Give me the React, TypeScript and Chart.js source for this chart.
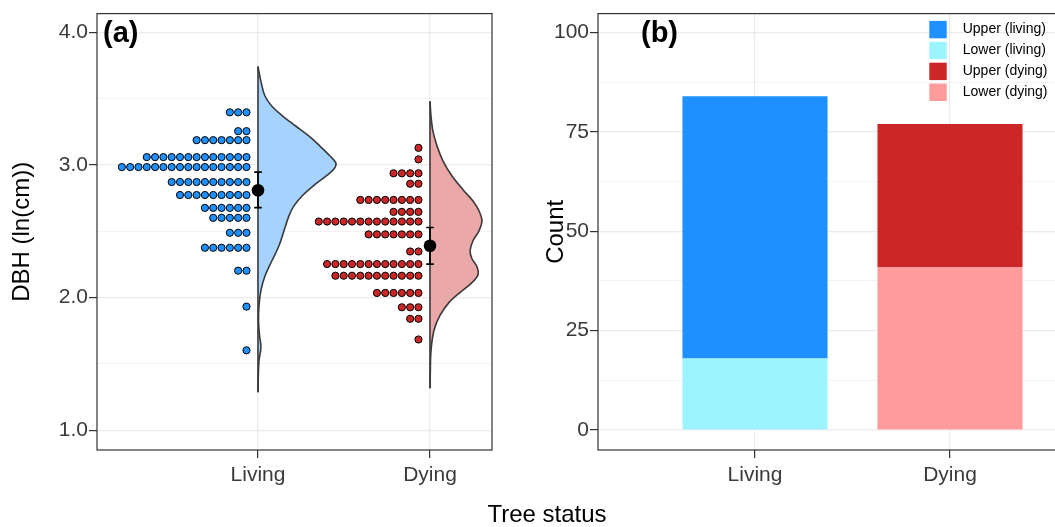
import React, { useEffect, useRef } from 'react';
import { Chart, registerables } from 'chart.js';

Chart.register(...registerables);

const FONT = '"Liberation Sans", Arial, Helvetica, sans-serif';

// ---------- shared ----------
const categories = ['Living', 'Dying'];
const categoryPositions = [1, 2];

// ---------- panel (a): dot rows (bin value, number of trees) ----------
const livingRowValues = [3.398, 3.256, 3.188, 3.06, 2.985, 2.872, 2.774, 2.677, 2.602, 2.489, 2.376, 2.203, 1.932, 1.602];
const livingRowCounts = [3, 2, 7, 13, 16, 10, 9, 6, 5, 3, 6, 2, 1, 1];
const dyingRowValues = [3.13, 3.043, 2.938, 2.859, 2.737, 2.647, 2.574, 2.477, 2.348, 2.253, 2.165, 2.035, 1.927, 1.84, 1.684];
const dyingRowCounts = [1, 1, 4, 2, 8, 4, 13, 7, 2, 12, 11, 6, 3, 2, 1];

// means and error bars
const means = [2.81, 2.391];
const errLow = [2.679, 2.253];
const errHigh = [2.947, 2.529];

// half-violin density outlines (value, half width in category units)
const livingDensityValues = [3.744, 3.632, 3.519, 3.444, 3.368, 3.293, 3.218, 3.143, 3.068, 3.015, 2.97, 2.917, 2.842, 2.767, 2.692, 2.617, 2.504, 2.391, 2.278, 2.165, 2.053, 1.94, 1.827, 1.714, 1.624, 1.526, 1.414, 1.286];
const livingDensityWidths = [0, 0.017, 0.041, 0.081, 0.145, 0.221, 0.297, 0.36, 0.419, 0.453, 0.442, 0.395, 0.32, 0.256, 0.209, 0.18, 0.151, 0.122, 0.081, 0.041, 0.017, 0.006, 0.003, 0.009, 0.017, 0.006, 0.002, 0];
const dyingDensityValues = [3.481, 3.368, 3.256, 3.143, 3.03, 2.917, 2.805, 2.729, 2.654, 2.579, 2.504, 2.429, 2.353, 2.293, 2.233, 2.173, 2.113, 2.038, 1.962, 1.865, 1.752, 1.602, 1.451, 1.316];
const dyingDensityWidths = [0, 0.006, 0.017, 0.041, 0.076, 0.128, 0.198, 0.25, 0.285, 0.302, 0.285, 0.25, 0.233, 0.244, 0.273, 0.279, 0.244, 0.174, 0.11, 0.058, 0.023, 0.006, 0.002, 0];

const yMajorTicksA = [1, 2, 3, 4];
const yMinorTicksA = [1.5, 2.5, 3.5];

// ---------- panel (b): stacked counts ----------
const lowerCounts = [18, 41];
const upperCounts = [66, 36];
const yMajorTicksB = [0, 25, 50, 75, 100];
const yMinorTicksB = [12.5, 37.5, 62.5, 87.5];
const legendOrder = ['Upper (living)', 'Lower (living)', 'Upper (dying)', 'Lower (dying)'];

// ---------- styles ----------
const LIVING_DOT = '#1E90FF';
const DYING_DOT = '#CD2626';
const LIVING_VIOLIN = '#A5D2FF';
const DYING_VIOLIN = '#EBA8A8';
const GRID = '#EBEBEB';
const DARK = '#333333';
const TICK_TEXT = '#3a3a3a';

const DOT_OFFSET = 0.067; // gap between category line and nearest dot (category units)
const DOT_STEP = 0.0483; // one dot diameter (category units)
const CAP = 0.022;

function dotPoints(values: number[], counts: number[], center: number) {
  const pts: { x: number; y: number }[] = [];
  values.forEach((v, r) => {
    for (let i = 0; i < counts[r]; i++) pts.push({ x: center - DOT_OFFSET - i * DOT_STEP, y: v });
  });
  return pts;
}

const decoPlugin = {
  id: 'deco',
  afterDraw(chart: any, _args: any, opts: any) {
    const { ctx, chartArea: a } = chart;
    ctx.save();
    ctx.strokeStyle = DARK;
    ctx.lineWidth = 1.2;
    ctx.strokeRect(a.left, a.top, a.right - a.left, a.bottom - a.top);
    ctx.fillStyle = '#000';
    ctx.font = `bold 29px ${FONT}`;
    ctx.textBaseline = 'alphabetic';
    ctx.textAlign = 'left';
    ctx.fillText(opts.label, opts.x, opts.y);
    ctx.restore();
  },
};

const legendPlugin = {
  id: 'insideLegend',
  afterDraw(chart: any, _args: any, opts: any) {
    const ctx = chart.ctx;
    ctx.save();
    ctx.font = `14px ${FONT}`;
    ctx.textBaseline = 'middle';
    ctx.textAlign = 'left';
    legendOrder.forEach((lab, i) => {
      const ds = chart.data.datasets.find((d: any) => d.label === lab);
      const y = opts.y0 + i * opts.dy;
      ctx.fillStyle = ds.backgroundColor;
      ctx.fillRect(opts.x0, y - opts.size / 2, opts.size, opts.size);
      ctx.fillStyle = '#000';
      ctx.fillText(lab, opts.textX, y);
    });
    ctx.restore();
  },
};

const catTicks = (scale: any) => {
  scale.ticks = categoryPositions.map((v) => ({ value: v }));
};
const catLabel = (v: any) => {
  const i = categoryPositions.indexOf(Number(v));
  return i >= 0 ? categories[i] : '';
};

function xAxis(min: number, max: number, stacked: boolean) {
  return {
    type: 'linear',
    min,
    max,
    offset: false,
    stacked,
    afterBuildTicks: catTicks,
    afterFit: (s: any) => {
      s.height = 77;
    },
    border: { display: false },
    grid: { offset: false, color: GRID, lineWidth: 1.2, drawTicks: true, tickLength: 8, tickColor: DARK, tickWidth: 1.2 },
    ticks: { callback: catLabel, autoSkip: false, maxRotation: 0, padding: 5, color: TICK_TEXT, font: { size: 21, family: FONT } },
  };
}

function yAxis(
  min: number,
  max: number,
  majors: number[],
  minors: number[],
  width: number,
  title: string,
  titlePad: number,
  stacked: boolean,
  fmt: (v: number) => string
) {
  const isMajor = (v: number) => majors.includes(v);
  return {
    type: 'linear',
    min,
    max,
    stacked,
    afterBuildTicks: (scale: any) => {
      scale.ticks = [...majors, ...minors].sort((a, b) => a - b).map((v) => ({ value: v }));
    },
    afterFit: (s: any) => {
      s.width = width;
    },
    border: { display: false },
    grid: {
      color: GRID,
      lineWidth: (c: any) => (c.tick && isMajor(c.tick.value) ? 1.2 : 0.6),
      drawTicks: true,
      tickLength: 8,
      tickWidth: 1.2,
      tickColor: (c: any) => (c.tick && isMajor(c.tick.value) ? DARK : 'rgba(0,0,0,0)'),
    },
    ticks: {
      callback: (v: any) => (isMajor(Number(v)) ? fmt(Number(v)) : ''),
      autoSkip: false,
      padding: 1,
      color: TICK_TEXT,
      font: { size: 21, family: FONT },
    },
    title: { display: true, text: title, color: '#000', font: { size: 24, family: FONT }, padding: { top: titlePad, bottom: 0 } },
  };
}

function lineDs(points: { x: number; y: number }[], order: number, width = 1.5) {
  return { data: points, showLine: true, borderColor: '#000', borderWidth: width, pointRadius: 0, fill: false, order };
}

export default function App() {
  const refA = useRef<HTMLCanvasElement>(null);
  const refB = useRef<HTMLCanvasElement>(null);

  useEffect(() => {
    const datasetsA: any[] = [];
    // mean points (top)
    datasetsA.push({
      data: means.map((m, i) => ({ x: categoryPositions[i], y: m })),
      pointRadius: 6.3,
      backgroundColor: '#000',
      borderWidth: 0,
      order: 0,
    });
    // error bars
    categoryPositions.forEach((c, i) => {
      datasetsA.push(lineDs([{ x: c, y: errLow[i] }, { x: c, y: errHigh[i] }], 1, 1.7));
      datasetsA.push(lineDs([{ x: c - CAP, y: errHigh[i] }, { x: c + CAP, y: errHigh[i] }], 1, 1.7));
      datasetsA.push(lineDs([{ x: c - CAP, y: errLow[i] }, { x: c + CAP, y: errLow[i] }], 1, 1.7));
    });
    // violins
    const violins = [
      { v: livingDensityValues, w: livingDensityWidths, c: categoryPositions[0], fill: LIVING_VIOLIN },
      { v: dyingDensityValues, w: dyingDensityWidths, c: categoryPositions[1], fill: DYING_VIOLIN },
    ];
    violins.forEach((vi) => {
      datasetsA.push({
        ...lineDs([{ x: vi.c, y: vi.v[0] }, { x: vi.c, y: vi.v[vi.v.length - 1] }], 2, 1.6),
        borderColor: '#3a3a3a',
      });
      datasetsA.push({
        data: vi.v.map((y, i) => ({ x: vi.c + vi.w[i], y })),
        showLine: true,
        fill: 'shape',
        backgroundColor: vi.fill,
        borderColor: '#3a3a3a',
        borderWidth: 1.6,
        pointRadius: 0,
        tension: 0.35,
        order: 3,
      });
    });
    // dots
    datasetsA.push({
      data: dotPoints(livingRowValues, livingRowCounts, categoryPositions[0]),
      pointRadius: 3.6,
      backgroundColor: LIVING_DOT,
      borderColor: '#000',
      borderWidth: 1,
      order: 4,
    });
    datasetsA.push({
      data: dotPoints(dyingRowValues, dyingRowCounts, categoryPositions[1]),
      pointRadius: 3.6,
      backgroundColor: DYING_DOT,
      borderColor: '#000',
      borderWidth: 1,
      order: 4,
    });

    const chartA = new Chart(refA.current as HTMLCanvasElement, {
      type: 'scatter',
      data: { datasets: datasetsA },
      options: {
        animation: false,
        responsive: false,
        devicePixelRatio: 1,
        events: [],
        layout: { padding: { left: 0, right: 8, top: 12, bottom: 0 } },
        plugins: {
          legend: { display: false },
          tooltip: { enabled: false },
          deco: { label: '(a)', x: 103, y: 42 },
        } as any,
        scales: {
          x: xAxis(0.064, 2.3605, false) as any,
          y: yAxis(0.85, 4.143, yMajorTicksA, yMinorTicksA, 97, 'DBH (ln(cm))', 8, false, (v) => v.toFixed(1)) as any,
        },
      },
      plugins: [decoPlugin as any],
    });

    const datasetsB = [
      { label: 'Lower (living)', data: [{ x: categoryPositions[0], y: lowerCounts[0] }], backgroundColor: '#9BF4FF' },
      { label: 'Upper (living)', data: [{ x: categoryPositions[0], y: upperCounts[0] }], backgroundColor: '#1E90FF' },
      { label: 'Lower (dying)', data: [{ x: categoryPositions[1], y: lowerCounts[1] }], backgroundColor: '#FF9B9B' },
      { label: 'Upper (dying)', data: [{ x: categoryPositions[1], y: upperCounts[1] }], backgroundColor: '#CD2626' },
    ].map((d) => ({ ...d, borderWidth: 0, categoryPercentage: 1, barPercentage: 0.744 }));

    const chartB = new Chart(refB.current as HTMLCanvasElement, {
      type: 'bar',
      data: { datasets: datasetsB as any },
      options: {
        animation: false,
        responsive: false,
        devicePixelRatio: 1,
        events: [],
        layout: { padding: { left: 0, right: 24, top: 12, bottom: 0 } },
        plugins: {
          legend: { display: false },
          tooltip: { enabled: false },
          deco: { label: '(b)', x: 171, y: 42 },
          insideLegend: { x0: 459.3, y0: 29.6, dy: 20.9, size: 17.4, textX: 492.7 },
        } as any,
        scales: {
          x: xAxis(0.1949, 2.8, true) as any,
          y: yAxis(-5.01, 104.76, yMajorTicksB, yMinorTicksB, 128, 'Count', 72, true, (v) => String(v)) as any,
        },
      },
      plugins: [decoPlugin as any, legendPlugin as any],
    });

    return () => {
      chartA.destroy();
      chartB.destroy();
    };
  }, []);

  return (
    <div style={{ position: 'fixed', left: 0, top: 0, width: 1055, height: 527, overflow: 'hidden', background: '#fff' }}>
      <canvas ref={refA} width={500} height={527} style={{ position: 'absolute', left: 0, top: 0, width: 500, height: 527 }} />
      <canvas ref={refB} width={660} height={527} style={{ position: 'absolute', left: 470, top: 0, width: 660, height: 527 }} />
      <div
        style={{
          position: 'absolute',
          left: 547,
          top: 502,
          transform: 'translateX(-50%)',
          fontFamily: FONT,
          fontSize: 24,
          lineHeight: '24px',
          whiteSpace: 'nowrap',
          color: '#000',
        }}
      >
        Tree status
      </div>
    </div>
  );
}
